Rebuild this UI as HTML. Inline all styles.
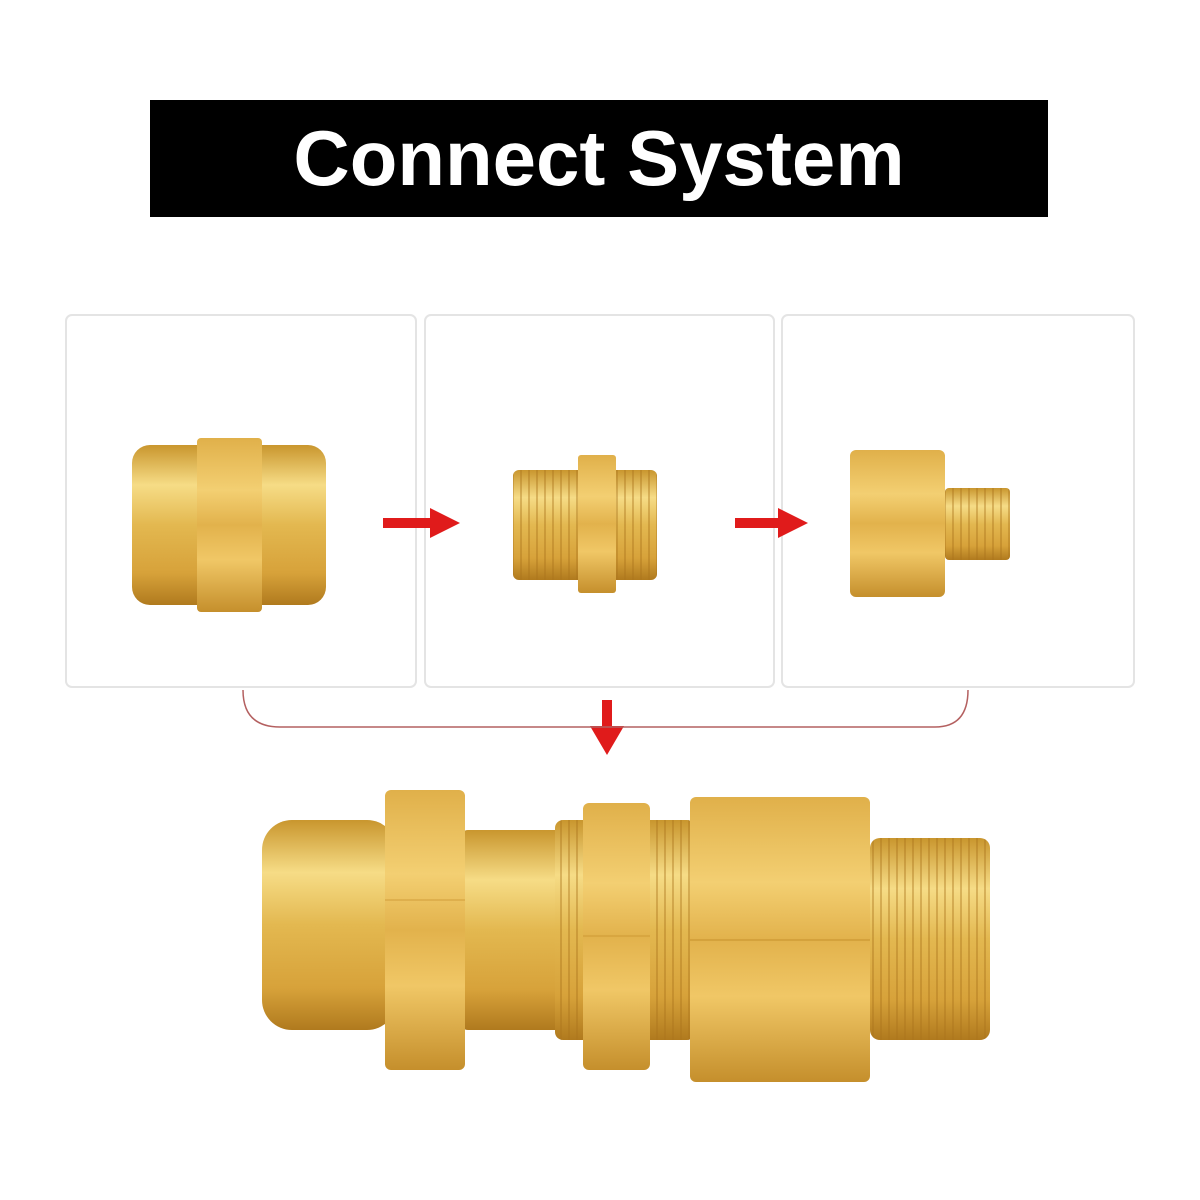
<!DOCTYPE html>
<html><head><meta charset="utf-8"><style>
html,body{margin:0;padding:0;background:#fff;}
body{width:1200px;height:1200px;position:relative;overflow:hidden;font-family:"Liberation Sans",sans-serif;}
.banner{position:absolute;left:150px;top:100px;width:898px;height:117px;background:#000;color:#fff;font-weight:bold;font-size:78px;text-align:center;line-height:117px;}
</style></head><body>
<div class="banner">Connect System</div>
<svg width="1200" height="1200" style="position:absolute;left:0;top:0">
<defs>
<linearGradient id="g" x1="0" y1="0" x2="0" y2="1">
<stop offset="0" stop-color="#c9962e"/><stop offset="0.25" stop-color="#f6dc86"/><stop offset="0.5" stop-color="#e3b850"/><stop offset="0.8" stop-color="#d7a23a"/><stop offset="1" stop-color="#b07a1e"/>
</linearGradient>
<linearGradient id="h" x1="0" y1="0" x2="0" y2="1">
<stop offset="0" stop-color="#e0b04a"/><stop offset="0.3" stop-color="#f3cf72"/><stop offset="0.5" stop-color="#e2b24c"/><stop offset="0.7" stop-color="#f0c766"/><stop offset="1" stop-color="#c58f2c"/>
</linearGradient>
<pattern id="t" width="8" height="10" patternUnits="userSpaceOnUse"><rect width="2" height="10" fill="#a9731c" opacity="0.4"/></pattern>
</defs>
<g fill="#fff" stroke="#e4e4e4" stroke-width="2">
<rect x="66" y="315" width="350" height="372" rx="6"/>
<rect x="425" y="315" width="349" height="372" rx="6"/>
<rect x="782" y="315" width="352" height="372" rx="6"/>
</g>
<rect x="132" y="445" width="194" height="160" rx="18" fill="url(#g)"/>
<rect x="197" y="438" width="65" height="174" rx="4" fill="url(#h)"/>
<rect x="513" y="470" width="144" height="110" rx="6" fill="url(#g)"/>
<rect x="513" y="470" width="144" height="110" rx="6" fill="url(#t)"/>
<rect x="578" y="455" width="38" height="138" rx="3" fill="url(#h)"/>
<rect x="850" y="450" width="95" height="147" rx="6" fill="url(#h)"/>
<rect x="945" y="488" width="65" height="72" rx="4" fill="url(#g)"/>
<rect x="945" y="488" width="65" height="72" rx="4" fill="url(#t)"/>
<g fill="#e01b1b">
<rect x="383" y="518" width="50" height="10"/><polygon points="430,508 460,523 430,538"/>
<rect x="735" y="518" width="45" height="10"/><polygon points="778,508 808,523 778,538"/>
<rect x="602" y="700" width="10" height="28"/><polygon points="590,726 624,726 607,755"/>
</g>
<path d="M243,690 Q243,727 280,727 L935,727 Q968,727 968,690" fill="none" stroke="#b46060" stroke-width="1.5"/>
<rect x="870" y="838" width="120" height="202" rx="10" fill="url(#g)"/>
<rect x="870" y="838" width="120" height="202" rx="10" fill="url(#t)"/>
<rect x="262" y="820" width="135" height="210" rx="30" fill="url(#g)"/>
<rect x="460" y="830" width="105" height="200" rx="8" fill="url(#g)"/>
<rect x="555" y="820" width="140" height="220" rx="8" fill="url(#g)"/>
<rect x="555" y="820" width="140" height="220" rx="8" fill="url(#t)"/>
<rect x="385" y="790" width="80" height="280" rx="6" fill="url(#h)"/>
<line x1="385" y1="900" x2="465" y2="900" stroke="#c8922e" stroke-width="1.5" opacity="0.5"/>
<rect x="583" y="803" width="67" height="267" rx="6" fill="url(#h)"/>
<line x1="583" y1="936" x2="650" y2="936" stroke="#c8922e" stroke-width="1.5" opacity="0.5"/>
<rect x="690" y="797" width="180" height="285" rx="6" fill="url(#h)"/>
<line x1="690" y1="940" x2="870" y2="940" stroke="#c8922e" stroke-width="2" opacity="0.5"/>
</svg>
</body></html>
